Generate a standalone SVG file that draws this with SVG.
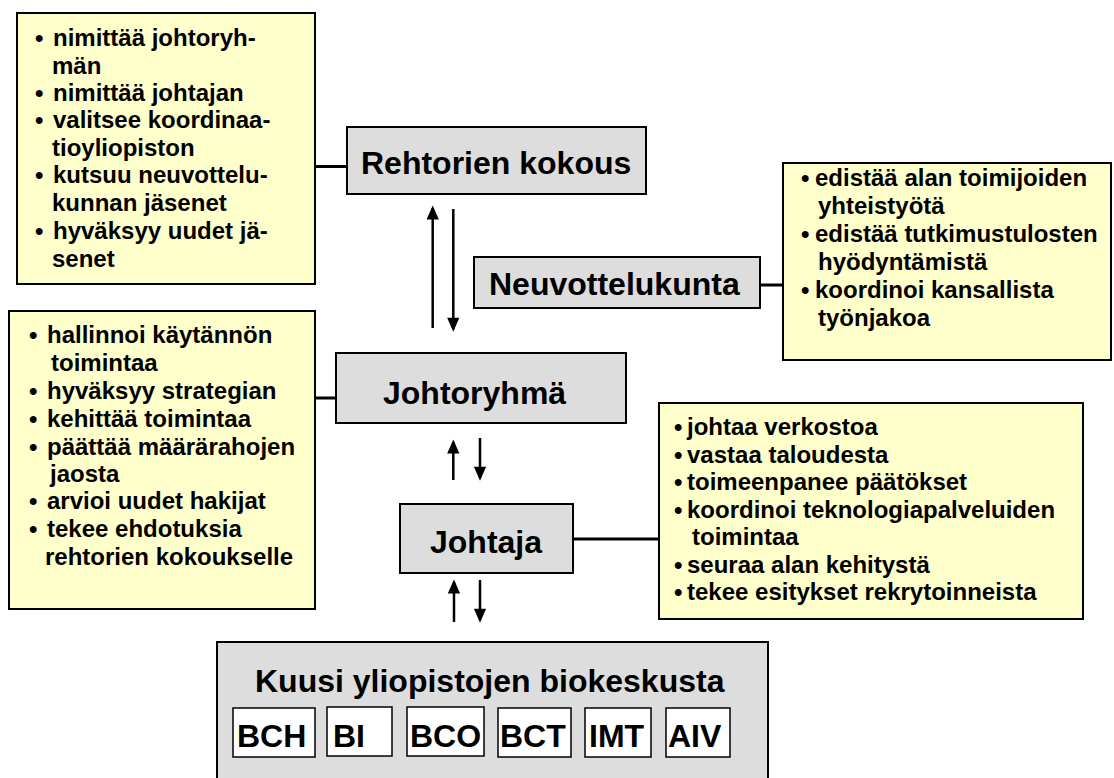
<svg xmlns="http://www.w3.org/2000/svg" width="1114" height="778" viewBox="0 0 1114 778">
<defs>
<style>
.note{fill:#FFFFCC;stroke:#000;stroke-width:2}
.box{fill:#DDDDDD;stroke:#000;stroke-width:2}
.unit{fill:#FFFFFF;stroke:#000;stroke-width:1.5}
.t{font-family:"Liberation Sans",Arial,sans-serif;font-weight:bold;font-size:24px;fill:#000}
.h{font-family:"Liberation Sans",Arial,sans-serif;font-weight:bold;font-size:32px;fill:#000}
.link{stroke:#000;stroke-width:3;fill:none}
.arr{stroke:#000;stroke-width:2.5;fill:none;marker-end:url(#ah)}
</style>
<marker id="ah" viewBox="0 0 14 16" refX="13" refY="7" markerWidth="16" markerHeight="14" markerUnits="userSpaceOnUse" orient="auto">
<path d="M0,0 L16,7 L0,14 Z" fill="#000"/>
</marker>
</defs>
<rect width="1114" height="778" fill="#FFFFFF"/>

<g id="connectors">
<line class="link" x1="315" y1="166.5" x2="348" y2="166.5"/>
<line class="link" x1="760" y1="285" x2="783" y2="285"/>
<line class="link" x1="315" y1="398" x2="336" y2="398"/>
<line class="link" x1="573" y1="539" x2="659" y2="539"/>
<line class="arr" x1="432.7" y1="328" x2="432.7" y2="208"/>
<line class="arr" x1="453.3" y1="209" x2="453.3" y2="329"/>
<line class="arr" x1="453.3" y1="480" x2="453.3" y2="442"/>
<line class="arr" x1="480" y1="438" x2="480" y2="478"/>
<line class="arr" x1="454" y1="622" x2="454" y2="582"/>
<line class="arr" x1="480" y1="580" x2="480" y2="620"/>
</g>

<g id="note-rehtorit">
<rect class="note" x="17" y="13" width="298" height="271"/>
<text class="t" x="35" y="46">•</text><text class="t" x="53" y="46">nimittää johtoryh-</text>
<text class="t" x="52" y="74">män</text>
<text class="t" x="35" y="101">•</text><text class="t" x="53" y="101">nimittää johtajan</text>
<text class="t" x="35" y="128">•</text><text class="t" x="53" y="128">valitsee koordinaa-</text>
<text class="t" x="52" y="156">tioyliopiston</text>
<text class="t" x="35" y="183">•</text><text class="t" x="53" y="183">kutsuu neuvottelu-</text>
<text class="t" x="52" y="211">kunnan jäsenet</text>
<text class="t" x="35" y="239">•</text><text class="t" x="53" y="239">hyväksyy uudet jä-</text>
<text class="t" x="52" y="267">senet</text>
</g>

<g id="rehtorien-kokous">
<rect class="box" x="347" y="127" width="299" height="67"/>
<text class="h" x="361" y="174">Rehtorien kokous</text>
</g>

<g id="neuvottelukunta">
<rect class="box" x="474" y="257" width="286" height="51"/>
<text class="h" x="489" y="295">Neuvottelukunta</text>
</g>

<g id="note-neuvottelukunta">
<rect class="note" x="783" y="163" width="328" height="197"/>
<text class="t" x="801" y="186">•</text><text class="t" x="815" y="186">edistää alan toimijoiden</text>
<text class="t" x="818" y="214">yhteistyötä</text>
<text class="t" x="801" y="242">•</text><text class="t" x="815" y="242">edistää tutkimustulosten</text>
<text class="t" x="818" y="270">hyödyntämistä</text>
<text class="t" x="801" y="298">•</text><text class="t" x="815" y="298">koordinoi kansallista</text>
<text class="t" x="818" y="326">työnjakoa</text>
</g>

<g id="note-johtoryhma">
<rect class="note" x="9" y="311" width="306" height="298"/>
<text class="t" x="29" y="343">•</text><text class="t" x="47" y="343">hallinnoi käytännön</text>
<text class="t" x="51" y="371">toimintaa</text>
<text class="t" x="29" y="399">•</text><text class="t" x="47" y="399">hyväksyy strategian</text>
<text class="t" x="29" y="427">•</text><text class="t" x="47" y="427">kehittää toimintaa</text>
<text class="t" x="29" y="455">•</text><text class="t" x="47" y="455">päättää määrärahojen</text>
<text class="t" x="50" y="482">jaosta</text>
<text class="t" x="29" y="509">•</text><text class="t" x="47" y="509">arvioi uudet hakijat</text>
<text class="t" x="29" y="537">•</text><text class="t" x="47" y="537">tekee ehdotuksia</text>
<text class="t" x="45" y="565">rehtorien kokoukselle</text>
</g>

<g id="johtoryhma">
<rect class="box" x="336" y="353" width="290" height="70"/>
<text class="h" x="383" y="404">Johtoryhmä</text>
</g>

<g id="johtaja">
<rect class="box" x="400" y="504" width="173" height="69"/>
<text class="h" x="430" y="553">Johtaja</text>
</g>

<g id="note-johtaja">
<rect class="note" x="659" y="403" width="424" height="216"/>
<text class="t" x="674" y="435">•</text><text class="t" x="687" y="435">johtaa verkostoa</text>
<text class="t" x="674" y="463">•</text><text class="t" x="687" y="463">vastaa taloudesta</text>
<text class="t" x="674" y="490">•</text><text class="t" x="687" y="490">toimeenpanee päätökset</text>
<text class="t" x="674" y="518">•</text><text class="t" x="687" y="518">koordinoi teknologiapalveluiden</text>
<text class="t" x="692" y="545">toimintaa</text>
<text class="t" x="674" y="573">•</text><text class="t" x="687" y="573">seuraa alan kehitystä</text>
<text class="t" x="674" y="600">•</text><text class="t" x="687" y="600">tekee esitykset rekrytoinneista</text>
</g>

<g id="biokeskukset">
<rect class="box" x="217" y="642" width="551" height="150"/>
<text class="h" x="255" y="692">Kuusi yliopistojen biokeskusta</text>
<g id="bch"><rect class="unit" x="233" y="708" width="82" height="49"/><text class="h" x="237" y="747">BCH</text></g>
<g id="bi"><rect class="unit" x="327" y="707" width="65" height="49"/><text class="h" x="333" y="747">BI</text></g>
<g id="bco"><rect class="unit" x="407" y="707" width="77" height="49"/><text class="h" x="410" y="747">BCO</text></g>
<g id="bct"><rect class="unit" x="498" y="708" width="73" height="49"/><text class="h" x="500" y="747">BCT</text></g>
<g id="imt"><rect class="unit" x="585" y="708" width="66" height="49"/><text class="h" x="589" y="747">IMT</text></g>
<g id="aiv"><rect class="unit" x="666" y="708" width="64" height="49"/><text class="h" x="668" y="747">AIV</text></g>
</g>
</svg>
